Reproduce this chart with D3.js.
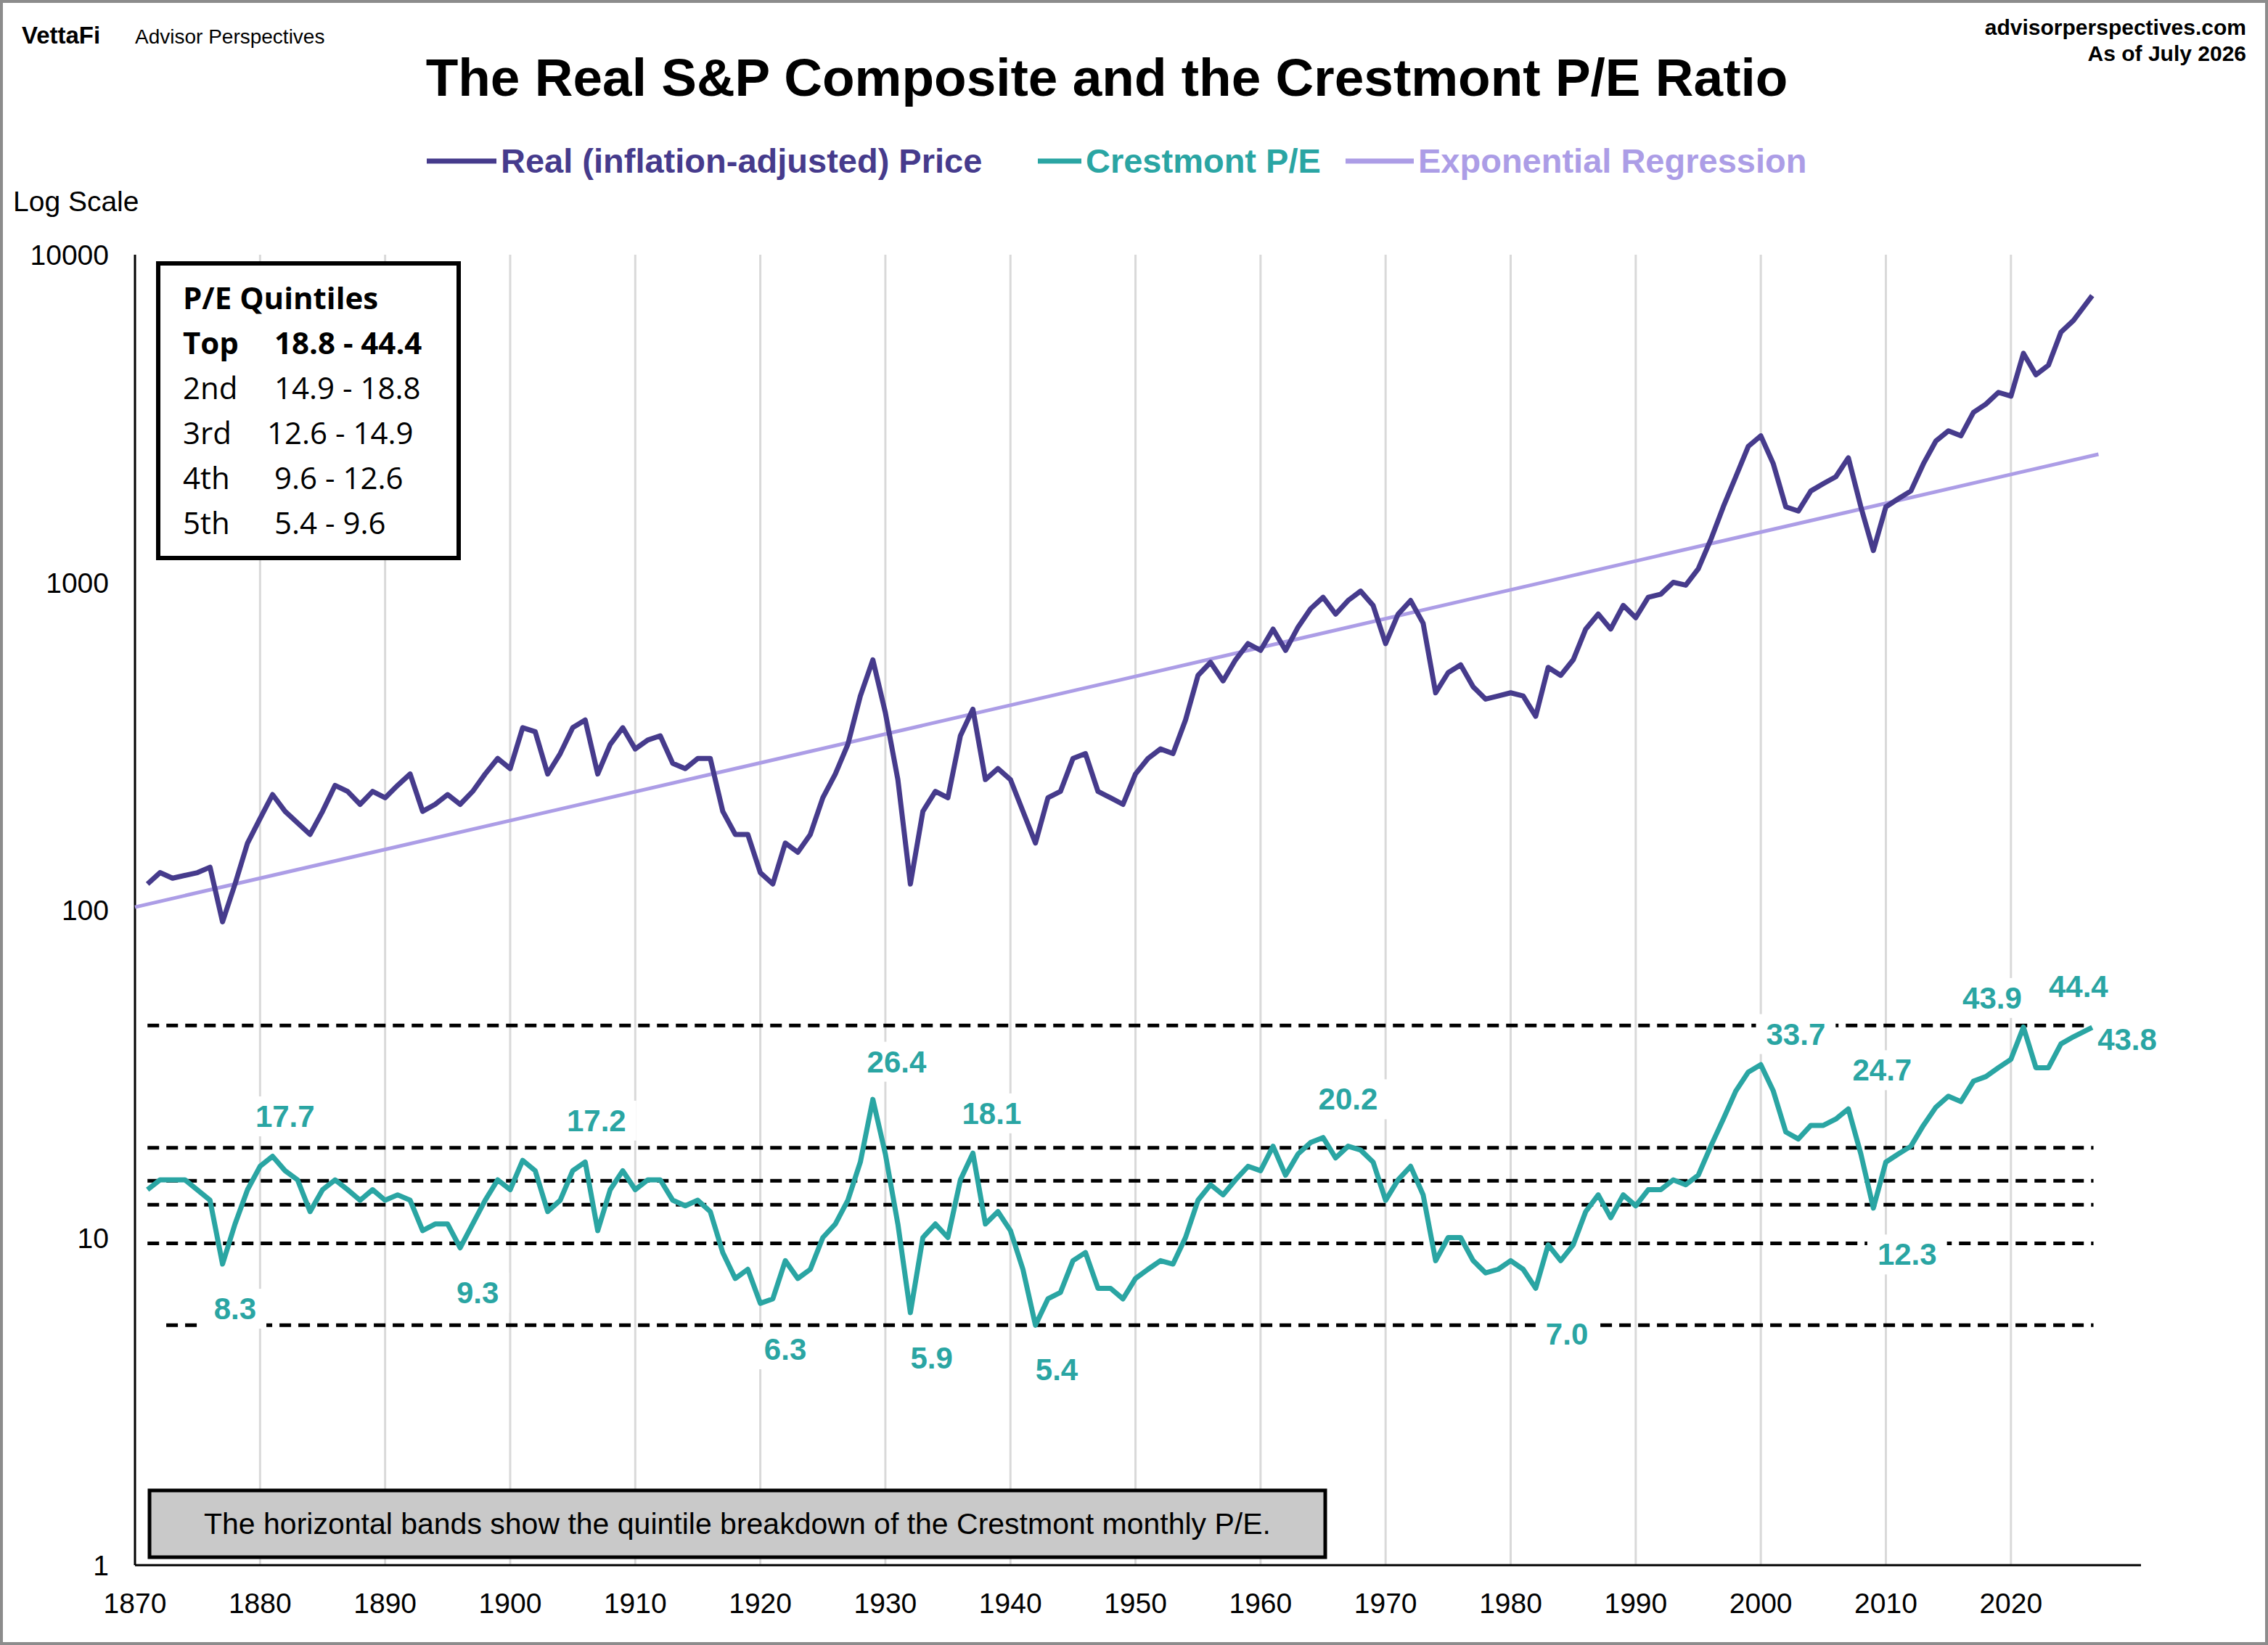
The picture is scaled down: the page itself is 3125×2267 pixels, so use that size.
<!DOCTYPE html>
<head>
<meta charset="utf-8">
<style>
body { margin: 0; background: white; }
text { font-family: "Liberation Sans", Arial, sans-serif; }
</style>
</head>
<body>
<script src="https://d3js.org/d3.v7.min.js"></script>
<script>
// Real (inflation-adjusted) S&P composite price
var priceYears = [1871,1872,1873,1875,1876,1877,1878,1879,1880,1881,1882,1884,1885,1886,1887,1888,1889,1890,1891,1892,1893,1894,1895,1896,1897,1898,1899,1900,1901,1902,1903,1904,1905,1906,1907,1908,1909,1910,1911,1912,1913,1914,1915,1916,1917,1918,1919,1920,1921,1922,1923,1924,1925,1926,1927,1928,1929,1930,1931,1932,1933,1934,1935,1936,1937,1938,1939,1940,1941,1942,1943,1944,1945,1946,1947,1948,1949,1950,1951,1952,1953,1954,1955,1956,1957,1958,1959,1960,1961,1962,1963,1964,1965,1966,1967,1968,1969,1970,1971,1972,1973,1974,1975,1976,1977,1978,1979,1980,1981,1982,1983,1984,1985,1986,1987,1988,1989,1990,1991,1992,1993,1994,1995,1996,1997,1998,1999,2000,2001,2002,2003,2004,2005,2006,2007,2008,2009,2010,2011,2012,2013,2014,2015,2016,2017,2018,2019,2020,2021,2022,2023,2024,2025,2026.5];
var priceValues = [120,130,125,130,135,92,120,160,190,225,200,170,200,240,230,210,230,220,240,260,200,210,225,210,230,260,290,270,360,350,260,300,360,380,260,320,360,310,330,340,280,270,290,290,200,170,170,130,120,160,150,170,220,260,320,450,580,400,250,120,200,230,220,340,410,250,270,250,200,160,220,230,290,300,230,220,210,260,290,310,300,380,520,570,500,580,650,620,720,620,730,830,900,800,880,940,850,650,800,880,750,460,530,560,480,440,450,460,450,390,550,520,580,720,800,720,850,780,900,920,1000,980,1100,1350,1700,2100,2600,2800,2300,1700,1650,1900,2000,2100,2400,1700,1250,1700,1800,1900,2300,2700,2900,2800,3300,3500,3800,3700,5000,4300,4600,5800,6300,7500];

// Crestmont P/E
var peYears = [1871,1872,1874,1876,1877,1878,1879,1880,1881,1882,1883,1884,1885,1886,1887,1888,1889,1890,1891,1892,1893,1894,1895,1896,1897,1898,1899,1900,1901,1902,1903,1904,1905,1906,1907,1908,1909,1910,1911,1912,1913,1914,1915,1916,1917,1918,1919,1920,1921,1922,1923,1924,1925,1926,1927,1928,1929,1930,1931,1932,1933,1934,1935,1936,1937,1938,1939,1940,1941,1942,1943,1944,1945,1946,1947,1948,1949,1950,1951,1952,1953,1954,1955,1956,1957,1958,1959,1960,1961,1962,1963,1964,1965,1966,1967,1968,1969,1970,1971,1972,1973,1974,1975,1976,1977,1978,1979,1980,1981,1982,1983,1984,1985,1986,1987,1988,1989,1990,1991,1992,1993,1994,1995,1996,1997,1998,1999,2000,2001,2002,2003,2004,2005,2006,2007,2008,2009,2010,2011,2012,2013,2014,2015,2016,2017,2018,2019,2020,2021,2022,2023,2024,2025,2026.5];
var peValues = [14,15,15,13,8.3,11,14,16.5,17.7,16,15,12,14,15,14,13,14,13,13.5,13,10.5,11,11,9.3,11,13,15,14,17.2,16,12,13,16,17,10.5,14,16,14,15,15,13,12.5,13,12,9,7.5,8,6.3,6.5,8.5,7.5,8,10,11,13,17,26.4,18,11,5.9,10,11,10,15,18.1,11,12,10.5,8,5.4,6.5,6.8,8.5,9,7,7,6.5,7.5,8,8.5,8.3,10,13,14.5,13.5,15,16.5,16,19,15.5,18,19.5,20.2,17.5,19,18.5,17,13,15,16.5,13.5,8.5,10,10,8.5,7.8,8,8.5,8,7.0,9.5,8.5,9.5,12,13.5,11.5,13.5,12.5,14,14,15,14.5,15.5,19,23,28,32,33.7,28,21,20,22,22,23,24.7,18,12.3,17,18,19,22,25,27,26,30,31,33,35,43.9,33,33,39,41,43.8];

// Exponential regression endpoints
var regYears = [1870, 2027];
var regValues = [102, 2460];

// Quintile boundaries
var quintiles = [44.4, 18.8, 14.9, 12.6, 9.6, 5.4];

// Annotations: text, and the year/value where each label sits
var annText = ["17.7","8.3","9.3","17.2","6.3","26.4","5.9","18.1","5.4","20.2","7.0","33.7","24.7","12.3","43.9","44.4","43.8"];
var annYear = [1882.0,1878.0,1897.4,1906.9,1922.0,1930.9,1933.7,1938.5,1943.7,1967.0,1984.5,2002.8,2009.7,2011.7,2018.5,2025.4,2029.3];
var annValue = [23.5,6.08,6.8,22.8,4.57,34.5,4.3,24.0,3.97,26.5,5.1,41.9,32.5,8.9,54,58.5,40.3];

var yTicks = [1, 10, 100, 1000, 10000];
var xTicks = d3.range(1870, 2030, 10);

var quintRows = [["P/E Quintiles", ""], ["Top", "18.8 - 44.4"], ["2nd", "14.9 - 18.8"], ["3rd", "12.6 - 14.9"], ["4th", "9.6 - 12.6"], ["5th", "5.4 - 9.6"]];

var W = 3125, H = 2267;
var L = 186, R = 2950, T = 351, B = 2157;
var cPrice = "#463B8C", cPE = "#2AA5A3", cReg = "#AC9DE6";

var svg = d3.select("body").append("svg").attr("width", W).attr("height", H);
svg.append("rect").attr("x", 2).attr("y", 2).attr("width", W - 4).attr("height", H - 4)
  .attr("fill", "white").attr("stroke", "#8c8c8c").attr("stroke-width", 4);

var x = d3.scaleLinear().domain([1870, 2030.4]).range([L, R]);
var y = d3.scaleLog().domain([1, 10000]).range([B, T]);

// grid
svg.selectAll(".grid").data(xTicks.slice(1)).enter().append("line")
  .attr("x1", d => x(d)).attr("x2", d => x(d)).attr("y1", T).attr("y2", B)
  .attr("stroke", "#d9d9d9").attr("stroke-width", 3);

// axes
svg.append("line").attr("x1", L).attr("x2", L).attr("y1", T).attr("y2", B).attr("stroke", "black").attr("stroke-width", 3);
svg.append("line").attr("x1", L).attr("x2", R).attr("y1", B).attr("y2", B).attr("stroke", "black").attr("stroke-width", 3);
svg.selectAll(".yt").data(yTicks).enter().append("text")
  .attr("x", 150).attr("y", d => y(d) + 14).attr("text-anchor", "end")
  .attr("font-size", 39).text(d => d);
svg.selectAll(".xt").data(xTicks).enter().append("text")
  .attr("x", d => x(d)).attr("y", B + 66).attr("text-anchor", "middle")
  .attr("font-size", 39).text(d => d);

// quintile dashed lines
svg.selectAll(".q").data(quintiles).enter().append("line")
  .attr("x1", (d, i) => x(i == 5 ? 1872.5 : 1871)).attr("x2", x(2026.6))
  .attr("y1", d => y(d)).attr("y2", d => y(d))
  .attr("stroke", "black").attr("stroke-width", 5).attr("stroke-dasharray", "16,10");

// annotations (white boxes hide the dashed lines, lines drawn on top)
annText.forEach(function(t, i) {
  var tx = svg.append("text").attr("x", x(annYear[i])).attr("y", y(annValue[i]) + 15)
    .attr("text-anchor", "middle").attr("font-size", 42).attr("font-weight", "bold")
    .attr("fill", cPE).text(t);
  var bb = tx.node().getBBox();
  svg.insert("rect", function() { return tx.node(); })
    .attr("x", bb.x - 14).attr("y", bb.y - 4).attr("width", bb.width + 28).attr("height", bb.height + 8)
    .attr("fill", "white");
});

var line = d3.line().x(d => x(d[0])).y(d => y(d[1]));
svg.append("path").datum(d3.zip(regYears, regValues)).attr("d", line)
  .attr("fill", "none").attr("stroke", cReg).attr("stroke-width", 5);
svg.append("path").datum(d3.zip(priceYears, priceValues)).attr("d", line)
  .attr("fill", "none").attr("stroke", cPrice).attr("stroke-width", 7).attr("stroke-linejoin", "round");
svg.append("path").datum(d3.zip(peYears, peValues)).attr("d", line)
  .attr("fill", "none").attr("stroke", cPE).attr("stroke-width", 7).attr("stroke-linejoin", "round");

// quintile box
svg.append("rect").attr("x", 218).attr("y", 363).attr("width", 414).attr("height", 406)
  .attr("fill", "white").attr("stroke", "black").attr("stroke-width", 6);
quintRows.forEach(function(r, i) {
  var g = svg.append("g").attr("font-size", 42).attr("font-weight", i < 2 ? "bold" : "normal");
  g.append("text").attr("x", 252).attr("y", 426 + i * 62).style("font-family", "'Open Sans'").text(r[0]);
  g.append("text").attr("x", i == 3 ? 368 : 378).attr("y", 426 + i * 62).style("font-family", "'Open Sans'").text(r[1]);
});

// note box
svg.append("rect").attr("x", 206).attr("y", 2054).attr("width", 1620).attr("height", 92)
  .attr("fill", "#c9c9c9").attr("stroke", "black").attr("stroke-width", 5);
svg.append("text").attr("x", 1016).attr("y", 2114).attr("text-anchor", "middle").attr("font-size", 41)
  .text("The horizontal bands show the quintile breakdown of the Crestmont monthly P/E.");

// titles
svg.append("text").attr("x", 1525).attr("y", 132).attr("text-anchor", "middle")
  .attr("font-size", 73).attr("font-weight", "bold").text("The Real S&P Composite and the Crestmont P/E Ratio");
svg.append("text").attr("x", 30).attr("y", 60).attr("font-size", 33).attr("font-weight", "bold").text("VettaFi");
svg.append("text").attr("x", 186).attr("y", 60).attr("font-size", 28).text("Advisor Perspectives");
svg.append("text").attr("x", 3095).attr("y", 48).attr("text-anchor", "end").attr("font-size", 30).attr("font-weight", "bold").text("advisorperspectives.com");
svg.append("text").attr("x", 3095).attr("y", 84).attr("text-anchor", "end").attr("font-size", 30).attr("font-weight", "bold").text("As of July 2026");
svg.append("text").attr("x", 18).attr("y", 291).attr("font-size", 39).text("Log Scale");

// legend
var leg = [["Real (inflation-adjusted) Price", cPrice, 588, 690], ["Crestmont P/E", cPE, 1430, 1496], ["Exponential Regression", cReg, 1854, 1954]];
leg.forEach(function(l) {
  svg.append("line").attr("x1", l[2]).attr("x2", l[3] - 6).attr("y1", 222).attr("y2", 222)
    .attr("stroke", l[1]).attr("stroke-width", 7);
  svg.append("text").attr("x", l[3]).attr("y", 238).attr("font-size", 47).attr("font-weight", "bold")
    .attr("fill", l[1]).text(l[0]);
});
</script>
</body>
